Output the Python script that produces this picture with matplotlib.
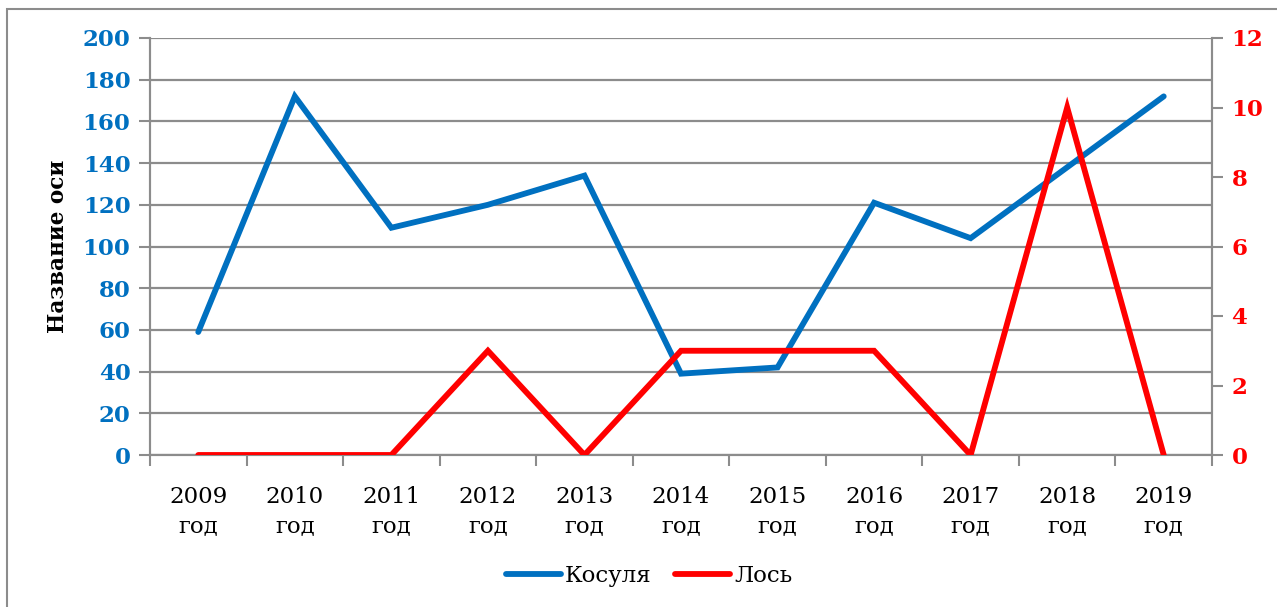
import matplotlib
matplotlib.use("Agg")
import matplotlib.pyplot as plt
from matplotlib.patches import Rectangle
from matplotlib.lines import Line2D

# Данные
years = ["2009\nгод", "2010\nгод", "2011\nгод", "2012\nгод", "2013\nгод", "2014\nгод",
         "2015\nгод", "2016\nгод", "2017\nгод", "2018\nгод", "2019\nгод"]
kosulya = [59, 172, 109, 120, 134, 39, 42, 121, 104, 138, 172]
los = [0, 0, 0, 3, 0, 3, 3, 3, 0, 10, 0]

blue = "#0070C0"
red = "#FF0000"
grid_c = "#8C8C8C"

plt.rcParams['font.family'] = ['DejaVu Serif']

fig = plt.figure(figsize=(12.77, 6.07), dpi=100)
ax = fig.add_axes([150/1277, 1 - 455/607, (1212 - 150)/1277, (455 - 38)/607])
ax2 = ax.twinx()

x = list(range(len(years)))
ax.plot(x, kosulya, color=blue, lw=4.2, solid_capstyle='round', solid_joinstyle='miter', zorder=3)
ax2.plot(x, los, color=red, lw=4.2, solid_capstyle='round', solid_joinstyle='miter', zorder=3)

ax.set_xlim(-0.5, len(years) - 0.5)
ax.set_ylim(0, 200)
ax.set_yticks(range(0, 201, 20))
ax2.set_ylim(0, 12)
ax2.set_yticks(range(0, 13, 2))

# Сетка
ax.grid(axis='y', color=grid_c, lw=1.6)
ax.set_axisbelow(True)

# Подписи оси X по центру категорий, засечки на границах
ax.set_xticks(x)
ax.set_xticklabels(years, fontsize=16.5, linespacing=1.45)
ax.set_xticks([i - 0.5 for i in range(len(years) + 1)], minor=True)
ax.tick_params(axis='x', which='major', length=0, pad=22)
ax.tick_params(axis='x', which='minor', length=8, width=1.5, color=grid_c)

ax.tick_params(axis='y', length=8, width=1.5, color=grid_c, labelsize=16.5, labelcolor=blue, pad=6)
ax2.tick_params(axis='y', length=8, width=1.5, color=grid_c, labelsize=16.5, labelcolor=red, pad=6)
for lab in ax.get_yticklabels():
    lab.set_fontweight('bold')
for lab in ax2.get_yticklabels():
    lab.set_fontweight('bold')

for a in (ax, ax2):
    a.spines['top'].set_visible(False)
    for s in ('left', 'right', 'bottom'):
        a.spines[s].set_color(grid_c)
        a.spines[s].set_linewidth(1.5)

ax.set_ylabel("Название оси", fontsize=15.5, fontweight='bold', labelpad=10)

# Легенда
handles = [Line2D([], [], color=blue, lw=4.2, solid_capstyle='round'),
           Line2D([], [], color=red, lw=4.2, solid_capstyle='round')]
fig.legend(handles, ["Косуля", "Лось"], loc='center', bbox_to_anchor=(649/1277, 1 - 576/607),
           ncol=2, frameon=False, fontsize=16.5, handlelength=2.4, handletextpad=0.2,
           columnspacing=1.0)

# Рамка диаграммы
fig.patches.append(Rectangle((7/1277, -0.01), 1.01, 1 - 9/607 + 0.01, transform=fig.transFigure,
                             fill=False, edgecolor=grid_c, lw=1.5))

fig.savefig("out.png", dpi=100)
